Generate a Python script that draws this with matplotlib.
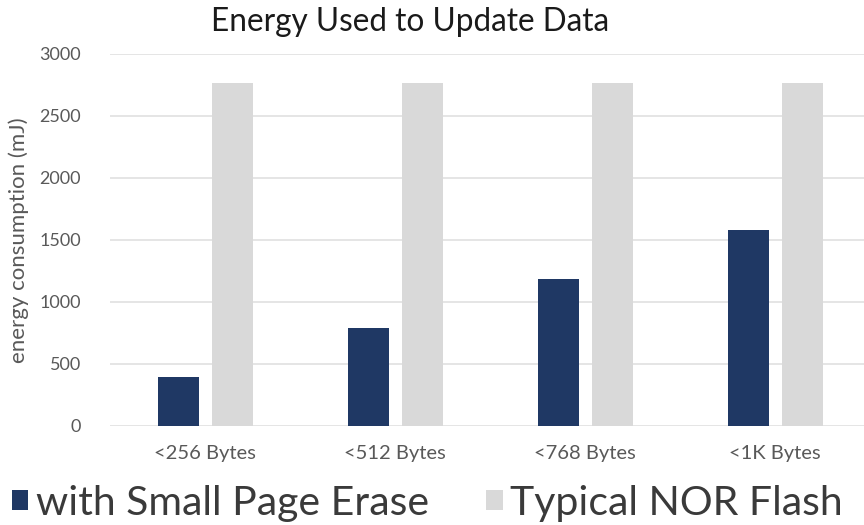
import matplotlib.pyplot as plt
import numpy as np

categorias = ["<256 Bytes", "<512 Bytes", "<768 Bytes", "<1K Bytes"]
small_page = [395, 790, 1185, 1580]
nor_flash = [2770, 2770, 2770, 2770]
serie_labels = ["with Small Page Erase", "Typical NOR Flash"]
y_ticks = [0, 500, 1000, 1500, 2000, 2500, 3000]

azul = "#1f3864"
gris = "#d9d9d9"
texto = "#595959"

plt.rcParams['font.family'] = ['Lato', 'DejaVu Sans']

fig = plt.figure(figsize=(8.64, 5.25), dpi=100)
ax = fig.add_axes([110 / 864, 99 / 525, 760 / 864, 372 / 525])

x = np.arange(len(categorias))
ancho = 0.215
b1 = ax.bar(x - 0.14, small_page, ancho, color=azul, label=serie_labels[0], zorder=3)
b2 = ax.bar(x + 0.145, nor_flash, ancho, color=gris, label=serie_labels[1], zorder=3)

ax.set_xlim(-0.5, len(categorias) - 0.5)
ax.set_ylim(0, 3000)
ax.set_yticks(y_ticks)
ax.set_xticks(x)
ax.set_xticklabels(categorias)
ax.tick_params(axis='y', length=0, colors=texto, labelsize=13, pad=21)
ax.tick_params(axis='x', length=0, colors=texto, labelsize=14.5, pad=14)
ax.yaxis.grid(True, color="#e0e0e0", linewidth=1.2, zorder=0)
for s in ax.spines.values():
    s.set_visible(False)
ax.set_ylabel("energy consumption (mJ)", color=texto, fontsize=16)
ax.yaxis.set_label_coords(-0.107, 0.5)

fig.text(410 / 864, 1 - 22 / 525, "Energy Used to Update Data", ha='center', va='center',
         fontsize=22.7, color="#1a1a1a")

fig.legend(handles=[b1, b2], loc='center left', bbox_to_anchor=(12 / 864, 1 - 503 / 525), ncol=2,
           frameon=False, fontsize=29.5, handlelength=0.4, handleheight=0.4,
           handletextpad=0.18, columnspacing=1.4, borderpad=0, borderaxespad=0,
           labelcolor="#3a3a3a")

fig.savefig("out.png", dpi=100)
